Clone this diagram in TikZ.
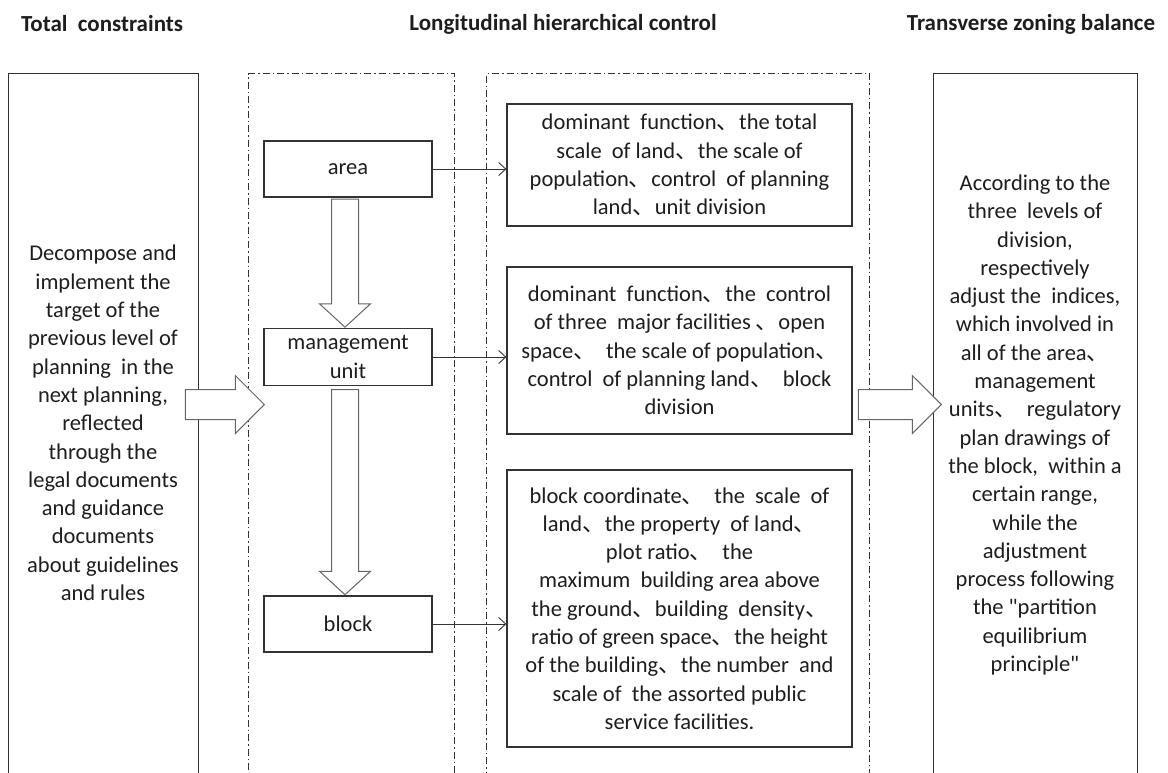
\documentclass[tikz,border=0pt]{standalone}
\usepackage{fontspec}
\setmainfont{Carlito}[Ligatures=TeXOff]
\newfontfamily\cjk{Noto Sans CJK SC}
\usetikzlibrary{shapes.arrows,arrows.meta}
\newcommand{\dun}{{\cjk 、}}
\definecolor{linegray}{HTML}{333333}
\definecolor{arrowgray}{HTML}{666666}
\definecolor{textgray}{HTML}{1e1e1e}
\tikzset{
  heading/.style={font=\fontsize{23}{27}\selectfont\bfseries, text=textgray},
  txt/.style={font=\fontsize{22.5}{28.3}\selectfont, text=textgray, align=center},
  box/.style={draw=linegray, line width=1.3pt, inner sep=0pt, txt},
  zone/.style={draw=linegray, line width=1pt, dash pattern=on 7pt off 3pt on 1.5pt off 3pt, inner sep=0pt},
  link/.style={-{Straight Barb[length=7pt,width=13pt]}, draw=linegray, line width=0.9pt},
  bigarrow/.style={single arrow, draw=arrowgray, fill=white, line width=1pt,
    inner xsep=0pt, inner ysep=14.5pt, single arrow head extend=14pt,
    minimum width=57pt, single arrow tip angle=90, anchor=tip},
  downarrow/.style={bigarrow, rotate=-90, inner ysep=13pt, single arrow head extend=12pt,
    minimum width=50pt, single arrow tip angle=95},
}
\begin{document}
\begin{tikzpicture}[x=1pt,y=-1pt]
\useasboundingbox (0,0) rectangle (1168,772);
\fill[white] (0,0) rectangle (1168,772);
\clip (0,0) rectangle (1168,772);

% headings
\node[heading] (head1) at (102,24) {Total~ constraints};
\node[heading] (head2) at (563,24) {Longitudinal hierarchical control};
\node[heading] (head3) at (1031,24) {Transverse zoning balance};

% outer frames (open at the bottom edge)
\node[box, minimum width=190pt, minimum height=740pt, anchor=north west] (total) at (8,73) {};
\node[zone, minimum width=206pt, minimum height=740pt, anchor=north west] (levels) at (248,73) {};
\node[zone, minimum width=383pt, minimum height=740pt, anchor=north west] (indices) at (486,73) {};
\node[box, minimum width=204pt, minimum height=740pt, anchor=north west] (balance) at (933,73) {};

\node[txt] (totaltext) at (103,423) {Decompose and\\ implement the\\ target of the\\ previous level of\\
  planning~ in the\\ next planning,\\ reflected\\ through the\\ legal documents\\ and guidance\\
  documents\\ about guidelines\\ and rules};
\node[txt] (balancetext) at (1035,425) {According to the\\ three~ levels of\\ division,\\ respectively\\
  adjust the~ indices,\\ which involved in\\ all of the area\dun\\ management\\ units\dun~ regulatory\\
  plan drawings of\\ the block,~ within a\\ certain range,\\ while the\\ adjustment\\
  process following\\ the "partition\\ equilibrium\\ principle"};

% levels
\node[box, minimum width=168pt, minimum height=56pt] (area) at (348,169) {area};
\node[box, minimum width=168pt, minimum height=57pt] (unit) at (348,357) {management\\ unit};
\node[box, minimum width=168pt, minimum height=56pt] (block) at (348,624) {block};

% control indices
\node[box, minimum width=345pt, minimum height=122pt] (areaidx) at (679.5,165)
  {dominant~ function\dun the total\\ scale~ of land\dun the scale of\\
   population\dun control~ of planning\\ land\dun unit division};
\node[box, minimum width=345pt, minimum height=167pt] (unitidx) at (679.5,350.5)
  {dominant~ function\dun the~ control\\ of three~ major facilities \dun open\\
   space\dun~ the scale of population\dun\\ control~ of planning land\dun~ block\\ division};
\node[box, minimum width=345pt, minimum height=277pt] (blockidx) at (679.5,608.5)
  {block coordinate\dun~ the~ scale~ of\\ land\dun the property~ of land\dun\\
   plot ratio\dun~ the\\ maximum~ building area above\\ the ground\dun building~ density\dun\\
   ratio of green space\dun the height\\ of the building\dun the number~ and\\
   scale of~ the assorted public\\ service facilities.};

\draw[link] (area.east) -- (area.east -| areaidx.west);
\draw[link] (unit.east) -- (unit.east -| unitidx.west);
\draw[link] (block.east) -- (block.east -| blockidx.west);

% block arrows
\node[downarrow, minimum height=128pt] (down1) at ([xshift=-3pt]unit.north) {};
\node[downarrow, minimum height=205pt] (down2) at ([xshift=-3pt]block.north) {};
\node[bigarrow, minimum height=79pt] (inflow) at (265,404.5) {};
\node[bigarrow, minimum height=83pt] (outflow) at (942,404.5) {};
\end{tikzpicture}
\end{document}
